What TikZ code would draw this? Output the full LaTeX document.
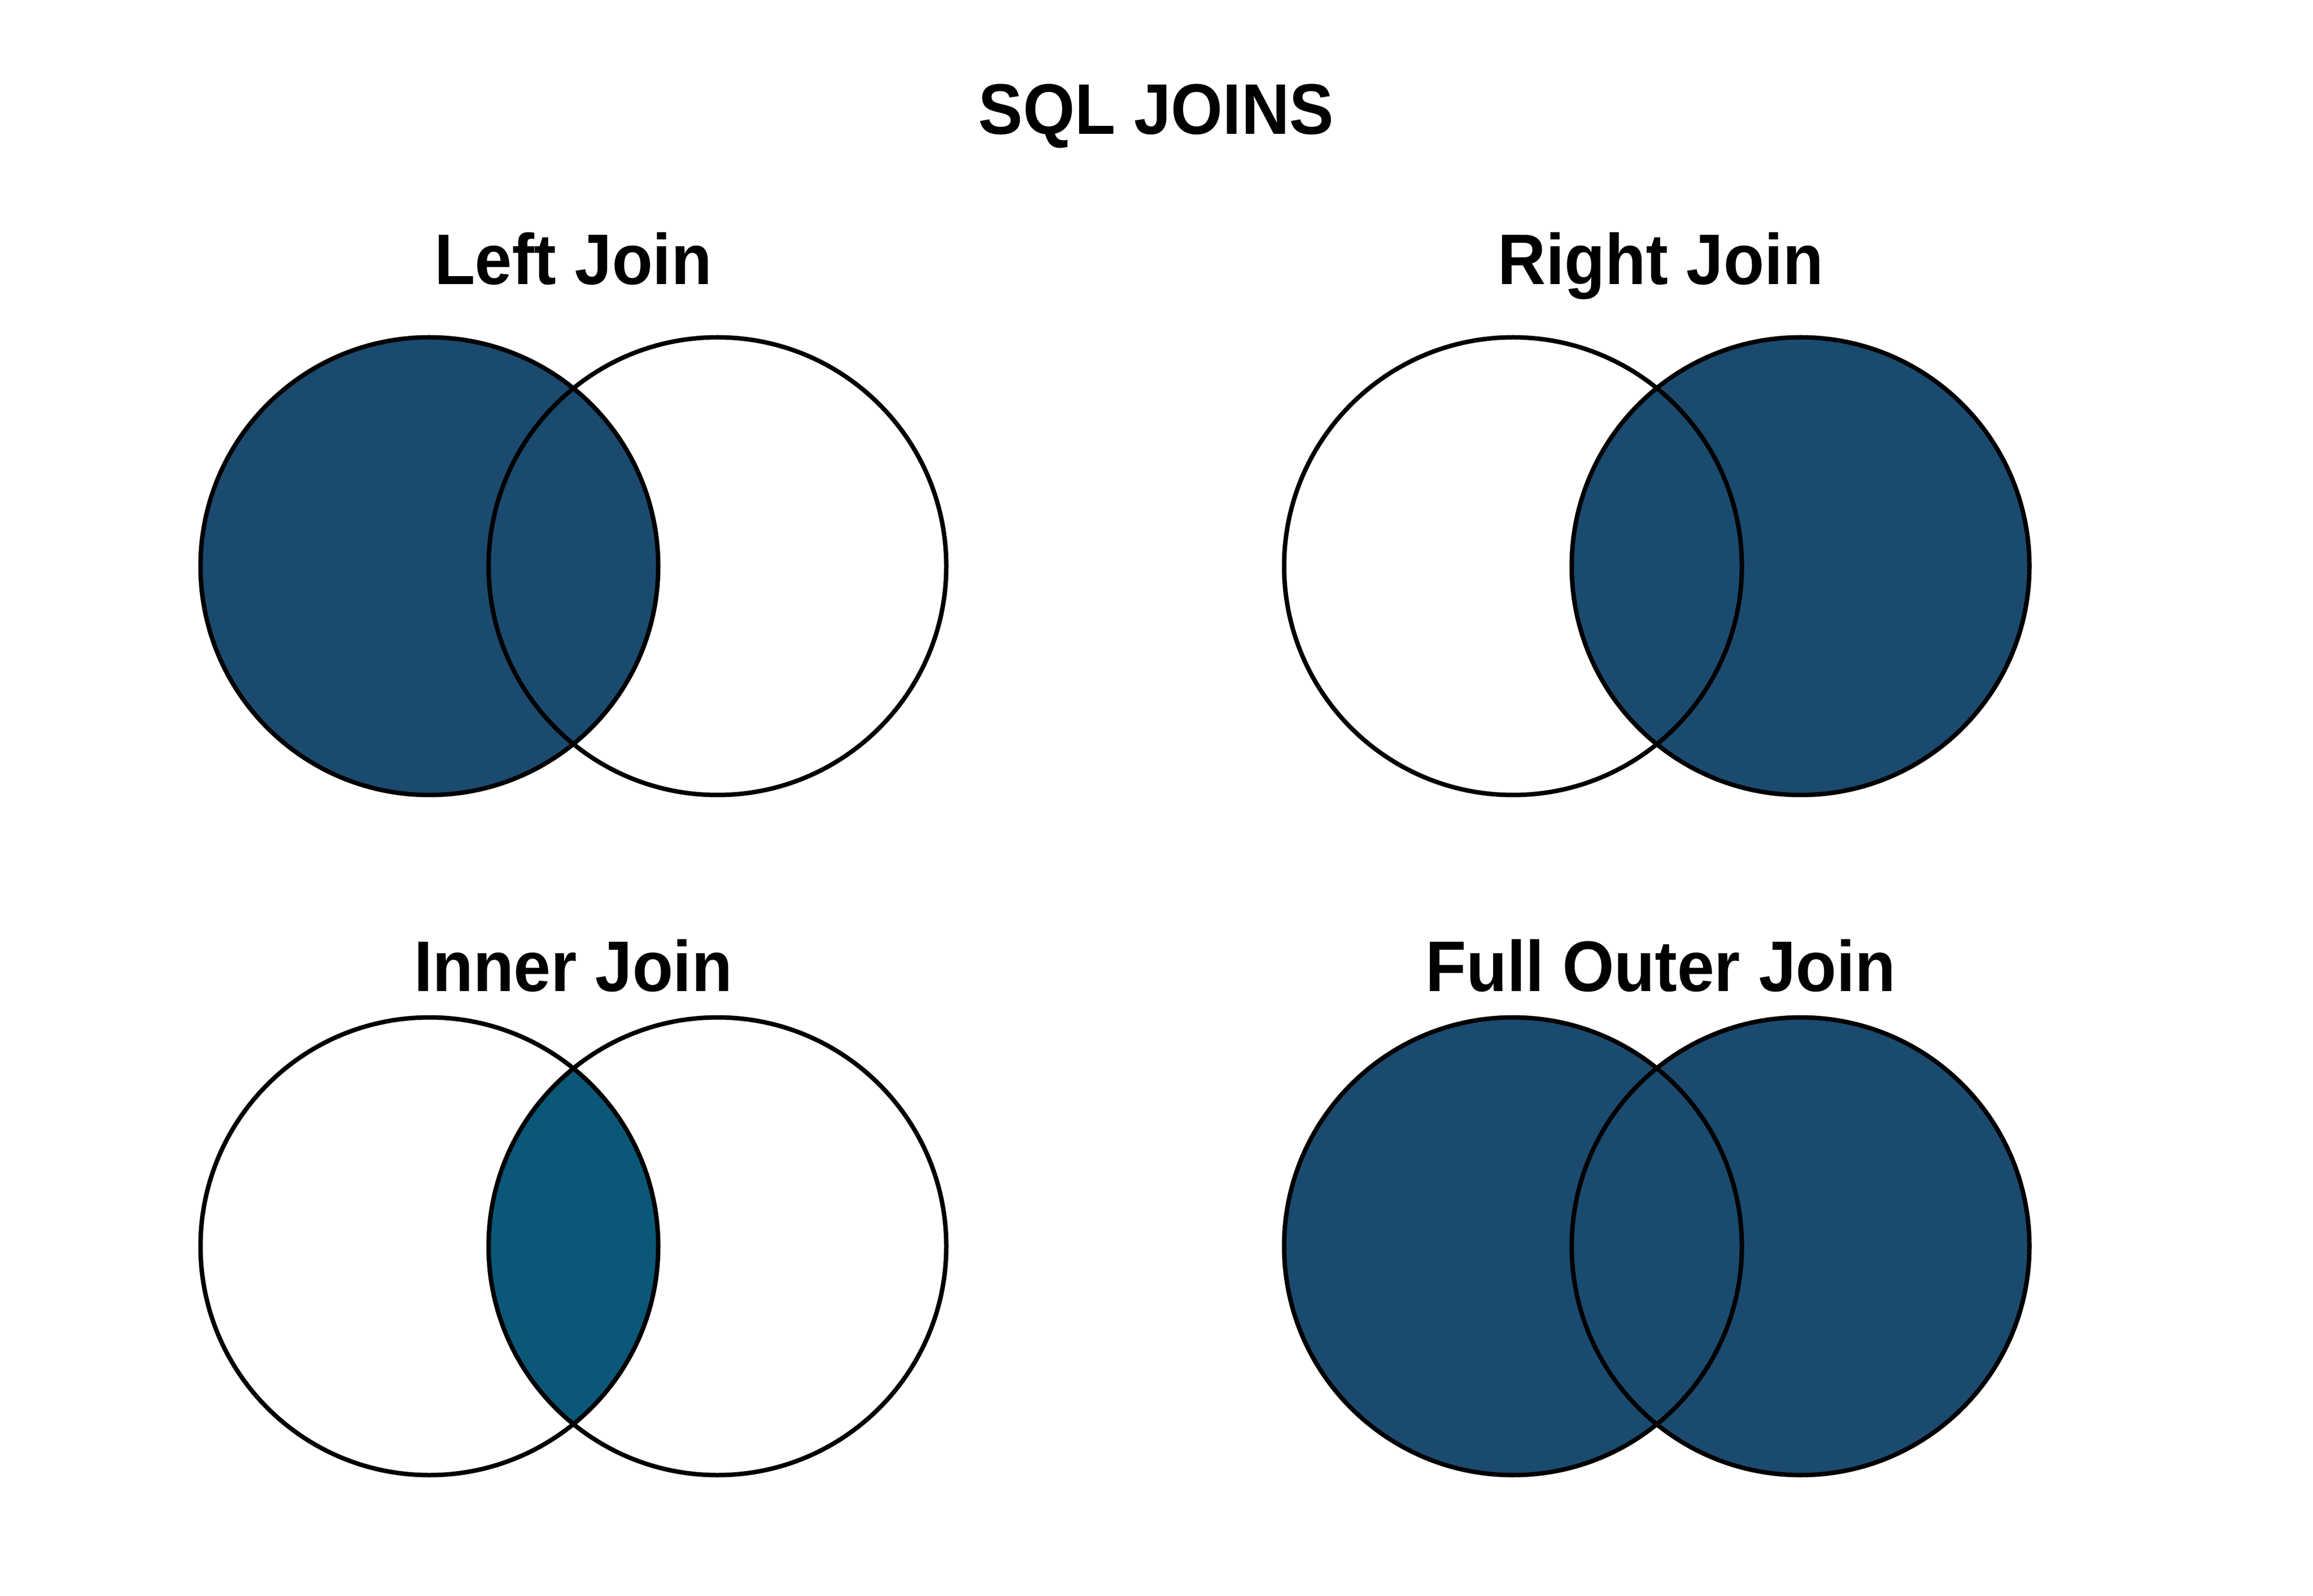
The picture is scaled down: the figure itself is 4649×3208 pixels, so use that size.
\documentclass[tikz,border=0pt]{standalone}
\usepackage{fontspec}
\setmainfont[FakeStretch=0.93]{Liberation Sans}
\begin{document}
\begin{tikzpicture}[x=0.25pt,y=-0.25pt,
  venn/.style={circle,draw=black,line width=2.25pt,inner sep=0pt,minimum size=230pt},
  lbl/.style={anchor=base,inner sep=0pt,font=\fontsize{36}{40}\selectfont\bfseries}]
\definecolor{joinblue}{HTML}{1B4A6F}
\definecolor{innerblue}{HTML}{0A5777}
\useasboundingbox[fill=white] (0,0) rectangle (4649,3208);
% centres
\coordinate (la) at (863,1138);  \coordinate (lb) at (1442,1138);
\coordinate (ra) at (3041,1138); \coordinate (rb) at (3619,1138);
\coordinate (ia) at (863,2505);  \coordinate (ib) at (1442,2505);
\coordinate (fa) at (3041,2505); \coordinate (fb) at (3619,2505);
% fills
\fill[joinblue] (la) circle[radius=460];
\fill[joinblue] (rb) circle[radius=460];
\begin{scope}
  \clip (ia) circle[radius=460];
  \fill[innerblue] (ib) circle[radius=460];
\end{scope}
\fill[joinblue] (fa) circle[radius=460];
\fill[joinblue] (fb) circle[radius=460];
% outlines
\node[venn] (LA) at (la) {}; \node[venn] (LB) at (lb) {};
\node[venn] (RA) at (ra) {}; \node[venn] (RB) at (rb) {};
\node[venn] (IA) at (ia) {}; \node[venn] (IB) at (ib) {};
\node[venn] (FA) at (fa) {}; \node[venn] (FB) at (fb) {};
% labels
\node[lbl] (title) at (2324,270) {SQL JOINS};
\node[lbl] (tleft) at (1152,572) {Left Join};
\node[lbl] (tright) at (3338,572) {Right Join};
\node[lbl] (tinner) at (1152,1992) {Inner Join};
\node[lbl] (tfull) at (3338,1992) {Full Outer Join};
\end{tikzpicture}
\end{document}
